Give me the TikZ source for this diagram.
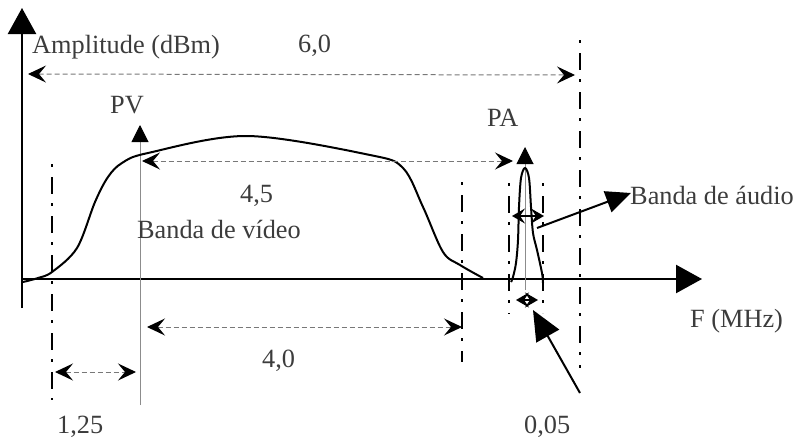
\documentclass[tikz,border=0pt]{standalone}
\usepackage{fontspec}
\setmainfont{Liberation Serif}
\usetikzlibrary{arrows.meta}
\definecolor{txt}{RGB}{60,60,60}
\definecolor{dimgray}{RGB}{120,120,120}
\definecolor{stemgray}{RGB}{140,140,140}
\begin{document}
\begin{tikzpicture}[x=1pt,y=-1pt,
  lbl/.style={anchor=base west,inner sep=0pt,text=txt,font=\fontsize{26.3}{30}\selectfont},
  axisline/.style={line width=2.4pt,-{Triangle[length=26pt,width=28pt]}},
  dimline/.style={draw=dimgray,line width=1pt,dash pattern=on 5pt off 3pt,
     {Stealth[length=18pt,width=17pt,inset=7pt,color=black]}-{Stealth[length=18pt,width=17pt,inset=7pt,color=black]}},
  dashdot/.style={line width=2.4pt,dash pattern=on 3pt off 10pt on 17pt off 9pt},
  stem/.style={draw=stemgray,line width=1pt,-{Triangle[length=17pt,width=17pt,color=black]}},
  curve/.style={line width=2pt,line join=round},
  pointer/.style={line width=2pt},
  smallarrow/.style={line width=1.6pt,{Stealth[length=13pt,width=15pt,inset=5pt]}-{Stealth[length=13pt,width=15pt,inset=5pt]}}
]
\useasboundingbox (0,0) rectangle (797,439);

% coordinates
\coordinate (yb) at (22,308);
\coordinate (yt) at (22,8);
\coordinate (xa) at (22,279);
\coordinate (xb) at (702,279);

% axes
\draw[axisline] (yb) -- (yt);
\draw[axisline] (xa) -- (xb);

% dash-dot verticals
\draw[dashdot] (52,164) -- (52,400);
\draw[dashdot] (462,182) -- (462,362);
\draw[dashdot] (509,183) -- (509,314);
\draw[dashdot] (543,183) -- (543,313);
\draw[dashdot] (580,40) -- (580,368);

% carrier stems
\coordinate (pvb) at (140,405);
\coordinate (pvt) at (140,125);
\coordinate (pab) at (525,290);
\coordinate (pat) at (525,147);
\draw[stem] (pvb) -- (pvt);
\draw[stem] (pab) -- (pat);

% video band curve
\draw[curve] plot[smooth,tension=0.55] coordinates {(23,282) (38,278) (52,272) (77,248) (95,202) (108,177) (122,163) (148,153) (247,136) (370,155) (403,168) (423,207) (443,252) (460,265) (483,278)};

% audio spike
\draw[curve] plot[smooth,tension=0.55] coordinates {(511,282) (513,277) (516,263) (518,240) (519,207) (521,178) (525,168) (529,178) (531,207) (533,233) (537,250) (542,273) (543,283)};

% dimension arrows
\draw[dimline] (28,74) -- (575,75);
\draw[dimline] (142,161) -- (513,161);
\draw[dimline] (147,327) -- (462,327);
\draw[dimline] (55,372) -- (136,372);

% audio band small arrows
\draw[smallarrow] (512,216) -- (544,216);
\draw[smallarrow] (516,300) -- (538,300);

% labels
\node[lbl] (amp) at (32,53) {Amplitude (dBm)};
\node[lbl] (six) at (298,52) {6,0};
\node[lbl] (pv) at (110,113) {PV};
\node[lbl] (pa) at (487,126) {PA};
\node[lbl] (fourfive) at (240,202) {4,5};
\node[lbl] (bv) at (137,238) {Banda de vídeo};
\node[lbl] (four) at (262,367) {4,0};
\node[lbl] (onetwentyfive) at (57,433) {1,25};
\node[lbl] (ba) at (630,204) {Banda de áudio};
\node[lbl] (fmhz) at (690,327) {F (MHz)};
\node[lbl] (zerofive) at (524,433) {0,05};

% pointers
\coordinate (bastart) at (537,228);
\coordinate (batip) at (631,193);
\draw[pointer,-{Triangle[length=25pt,width=22pt]}] (bastart) -- (batip);
\coordinate (zfstart) at (580,393);
\coordinate (zftip) at (533,310);
\draw[pointer,-{Triangle[length=30pt,width=26pt]}] (zfstart) -- (zftip);
\end{tikzpicture}
\end{document}
